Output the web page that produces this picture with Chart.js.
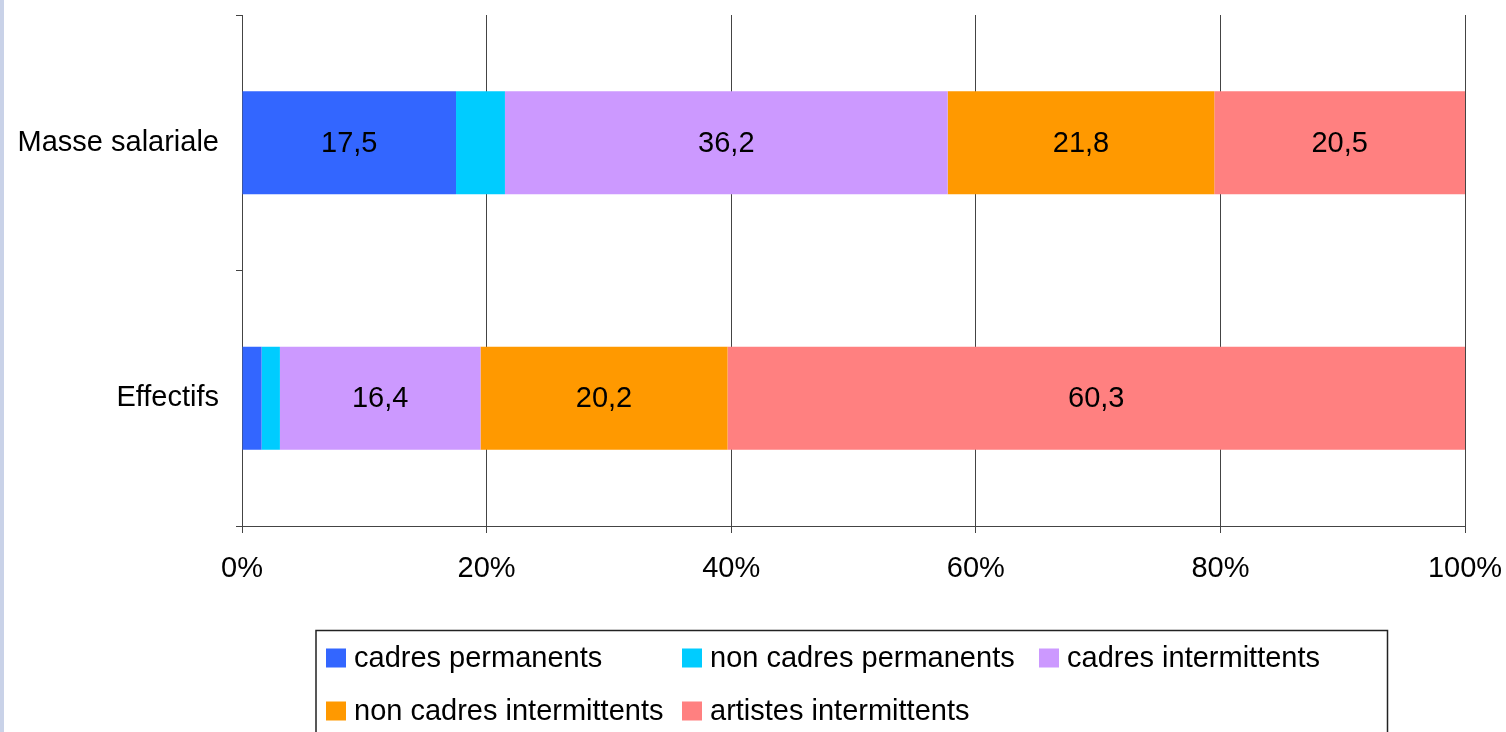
<!DOCTYPE html>
<html>
<head>
<meta charset="utf-8">
<script src="https://cdn.jsdelivr.net/npm/chart.js@4.4.1/dist/chart.umd.min.js"></script>
<style>
  html, body { margin: 0; padding: 0; background: #fff; }
  #wrap { position: relative; width: 1506px; height: 732px; overflow: hidden; }
  canvas { display: block; }
</style>
</head>
<body>
<div id="wrap"><canvas id="c" width="1506" height="732"></canvas></div>
<script>
const categories = ['Masse salariale', 'Effectifs'];
const seriesNames = ['cadres permanents', 'non cadres permanents', 'cadres intermittents', 'non cadres intermittents', 'artistes intermittents'];
const cadresPermanents = [17.5, 1.6];
const nonCadresPermanents = [4.0, 1.5];
const cadresIntermittents = [36.2, 16.4];
const nonCadresIntermittents = [21.8, 20.2];
const artistesIntermittents = [20.5, 60.3];
const xTickValues = [0, 20, 40, 60, 80, 100];
const colors = ['#3366FF', '#00CCFF', '#CC99FF', '#FF9900', '#FF8080'];

const FONT = '"Liberation Sans", Arial, sans-serif';
const seriesValues = [cadresPermanents, nonCadresPermanents, cadresIntermittents, nonCadresIntermittents, artistesIntermittents];

const bgPlugin = {
  id: 'bg',
  beforeDraw(chart) {
    const ctx = chart.ctx;
    ctx.save();
    ctx.fillStyle = '#ffffff';
    ctx.fillRect(0, 0, chart.width, chart.height);
    ctx.fillStyle = '#c9d2e8';
    ctx.fillRect(0, 0, 4, chart.height);
    ctx.restore();
  }
};

const labelPlugin = {
  id: 'barLabels',
  afterDatasetsDraw(chart) {
    const ctx = chart.ctx;
    ctx.save();
    ctx.font = '29px ' + FONT;
    ctx.fillStyle = '#000';
    ctx.textAlign = 'center';
    ctx.textBaseline = 'middle';
    chart.data.datasets.forEach((ds, i) => {
      const meta = chart.getDatasetMeta(i);
      meta.data.forEach((bar, j) => {
        const v = ds.data[j];
        if (v < 5) return;
        const cx = (bar.x + bar.base) / 2;
        ctx.fillText(String(v.toFixed(1)).replace('.', ','), cx, bar.y + 1);
      });
    });
    ctx.restore();
  }
};

const legendPlugin = {
  id: 'boxLegend',
  afterDraw(chart) {
    const ctx = chart.ctx;
    ctx.save();
    ctx.strokeStyle = '#222';
    ctx.lineWidth = 1.5;
    ctx.strokeRect(316, 630.5, 1071.5, 140);
    const pos = [[326, 658], [682, 658], [1039, 658], [326, 711], [682, 711]];
    ctx.font = '29px ' + FONT;
    ctx.textBaseline = 'middle';
    ctx.textAlign = 'left';
    seriesNames.forEach((name, i) => {
      const [x, y] = pos[i];
      ctx.fillStyle = colors[i];
      ctx.fillRect(x, y - 9.5, 20, 19);
      ctx.fillStyle = '#000';
      ctx.fillText(name, x + 28, y + 1);
    });
    ctx.restore();
  }
};

const datasets = seriesNames.map((name, i) => ({
  label: name,
  data: seriesValues[i],
  backgroundColor: colors[i],
  borderWidth: 0,
  categoryPercentage: 1,
  barPercentage: 0.404
}));

new Chart(document.getElementById('c'), {
  type: 'bar',
  data: { labels: categories, datasets },
  options: {
    indexAxis: 'y',
    responsive: false,
    animation: false,
    layout: { padding: { top: 15, right: 41, bottom: 146, left: 0 } },
    plugins: {
      legend: { display: false },
      tooltip: { enabled: false }
    },
    scales: {
      x: {
        stacked: true,
        min: 0,
        max: 100,
        afterBuildTicks(scale) { scale.ticks = xTickValues.map(v => ({ value: v })); },
        afterFit(scale) {
          scale.height = 60;
          scale.paddingLeft = 0; scale.paddingRight = 0;
          scale.paddingTop = 0; scale.paddingBottom = 0;
        },
        ticks: {
          callback: v => v + '%',
          font: { family: FONT, size: 29 },
          color: '#000',
          padding: 19,
          maxRotation: 0
        },
        grid: {
          color: '#444',
          lineWidth: 1,
          drawOnChartArea: true,
          drawTicks: true,
          tickLength: 7
        },
        border: { display: true, color: '#444', width: 1 }
      },
      y: {
        stacked: true,
        offset: true,
        afterFit(scale) {
          scale.width = 242;
          scale.paddingLeft = 0; scale.paddingRight = 0;
          scale.paddingTop = 0; scale.paddingBottom = 0;
        },
        ticks: {
          font: { family: FONT, size: 29 },
          color: '#000',
          padding: 17
        },
        grid: {
          offset: true,
          drawOnChartArea: false,
          drawTicks: true,
          tickLength: 6,
          color: '#444'
        },
        border: { display: true, color: '#444', width: 1 }
      }
    }
  },
  plugins: [bgPlugin, labelPlugin, legendPlugin]
});
</script>
</body>
</html>
